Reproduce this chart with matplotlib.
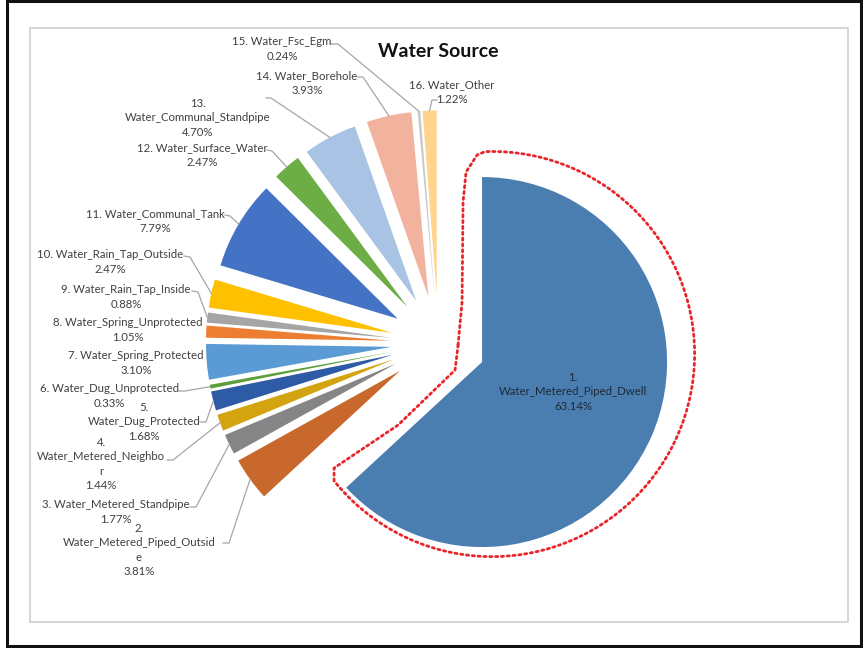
import numpy as np
import matplotlib
matplotlib.use("Agg")
import matplotlib.pyplot as plt
from matplotlib.patches import Rectangle
from matplotlib.lines import Line2D

# ---------------- data ----------------
categories = [
    "1.\nWater_Metered_Piped_Dwell",
    "2.\nWater_Metered_Piped_Outsid\ne",
    "3. Water_Metered_Standpipe",
    "4.\nWater_Metered_Neighbo\nr",
    "5.\nWater_Dug_Protected",
    "6. Water_Dug_Unprotected",
    "7. Water_Spring_Protected",
    "8. Water_Spring_Unprotected",
    "9. Water_Rain_Tap_Inside",
    "10. Water_Rain_Tap_Outside",
    "11. Water_Communal_Tank",
    "12. Water_Surface_Water",
    "13.\nWater_Communal_Standpipe",
    "14. Water_Borehole",
    "15. Water_Fsc_Egm",
    "16. Water_Other",
]
shares = [63.14, 3.81, 1.77, 1.44, 1.68, 0.33, 3.10, 1.05, 0.88, 2.47,
          7.79, 2.47, 4.70, 3.93, 0.24, 1.22]
title = "Water Source"

# ---------------- style / layout ----------------
colors = ["#4A7EB1", "#C8682C", "#858585", "#D4A410", "#2E5BA6", "#5C9E3A",
          "#5B9BD5", "#ED7D31", "#A5A5A5", "#FFC000", "#4472C4", "#6DAD45",
          "#A9C3E5", "#F2B39E", "#C9C9C9", "#FFD48C"]

W, H = 863, 648
S = 185.0              # pixels per data unit (pie radius)
CX, CY = 438.5, 343.0  # pie centre in pixels
LINE_STEP = 14.5       # label line spacing in pixels

def P(px, py):
    return ((px - CX) / S, (CY - py) / S)

# label centre positions (pixels)
label_pos = [(573, 392), (139, 550), (116, 512), (101, 464), (144, 422),
             (109, 396), (136, 363), (128, 330), (126, 297), (110, 262),
             (155, 221), (202, 155), (198, 118), (307, 83), (282, 49),
             (452, 92)]
# leader start / tick points (pixels), None = no leader
leader_pts = [None, [(223, 543), (229, 543)], [(190, 507), (196, 507)],
              [(167, 460), (173, 460)], [(200, 422), (206, 422)],
              [(179, 391), (185, 391)], None, None,
              [(192, 291), (198, 292)], [(184, 256), (190, 257)],
              [(225, 215), (230, 216)], [(267, 150), (272, 151)],
              [(266, 98), (271, 98)], [(358, 77), (363, 77)],
              [(331, 44), (338, 44)], [(437, 100), (432, 100)]]

fig = plt.figure(figsize=(W / 100, H / 100), dpi=100)
ax = fig.add_axes([0, 0, 1, 1])

wedges, _ = ax.pie(shares, explode=[0.257] * len(shares), colors=colors,
                   startangle=90, counterclock=False, radius=1,
                   wedgeprops=dict(linewidth=0))

ax.set_aspect("auto")
ax.set_xlim((0 - CX) / S, (W - CX) / S)
ax.set_ylim((CY - H) / S, CY / S)
ax.axis("off")

# frames
outer = Rectangle(P(7, 646), 854 / S, 645 / S, fill=False,
                  edgecolor="#111111", linewidth=2.2, zorder=0)
ax.add_patch(outer)
inner = Rectangle(P(30, 622), 818 / S, 594 / S, fill=False,
                  edgecolor="#D0D0D0", linewidth=1.2, zorder=0)
ax.add_patch(inner)

# labels (each line as its own text, centred)
fam = ["Lato", "DejaVu Sans"]
for i, (txt, val) in enumerate(zip(categories, shares)):
    lines = (f"{txt}\n{val:.2f}%").split("\n")
    n = len(lines)
    cx, cy = label_pos[i]
    for k, line in enumerate(lines):
        x, y = P(cx, cy + (k - (n - 1) / 2) * LINE_STEP)
        ax.text(x, y, line, ha="center", va="center", fontsize=8.2,
                family=fam, color="#1E2A38" if i == 0 else "#404040",
                zorder=5)

# leaders
for i, w in enumerate(wedges):
    pts = leader_pts[i]
    if pts is None:
        continue
    th = np.deg2rad((w.theta1 + w.theta2) / 2)
    ex = w.center[0] + w.r * np.cos(th)
    ey = w.center[1] + w.r * np.sin(th)
    xs = [P(*p)[0] for p in pts] + [ex]
    ys = [P(*p)[1] for p in pts] + [ey]
    ax.add_line(Line2D(xs, ys, color="#A6A6A6", linewidth=0.9, zorder=4))

# title
tx, ty = P(438, 52)
ax.text(tx, ty, title, ha="center", va="center", fontsize=14,
        fontweight="bold", family=fam, color="#111111")

# red dotted outline around slice 1
w0 = wedges[0]
vx, vy = w0.center
off = np.array([10 / S, 8 / S])
rr = w0.r * 1.095
angs = np.deg2rad(np.linspace(w0.theta2 + 2, w0.theta1 - 4, 120))
arc_x = vx + off[0] + rr * np.cos(angs)
arc_y = vy + off[1] + rr * np.sin(angs)
pre = [(-24, 17), (-20, 60), (-19, 160), (-16, 190), (-5, 207)]
post = [(-148, -106), (-84, -63), (-27, -8), (-24, 17)]
ox = [vx + dx / S for dx, dy in pre] + list(arc_x) + [vx + dx / S for dx, dy in post]
oy = [vy + dy / S for dx, dy in pre] + list(arc_y) + [vy + dy / S for dx, dy in post]
ax.add_line(Line2D(ox, oy, color="#E8262A", linewidth=2.0,
                   linestyle=(0, (0.8, 1.3)), dash_capstyle="round", zorder=6))

fig.savefig("out.png", dpi=100)
